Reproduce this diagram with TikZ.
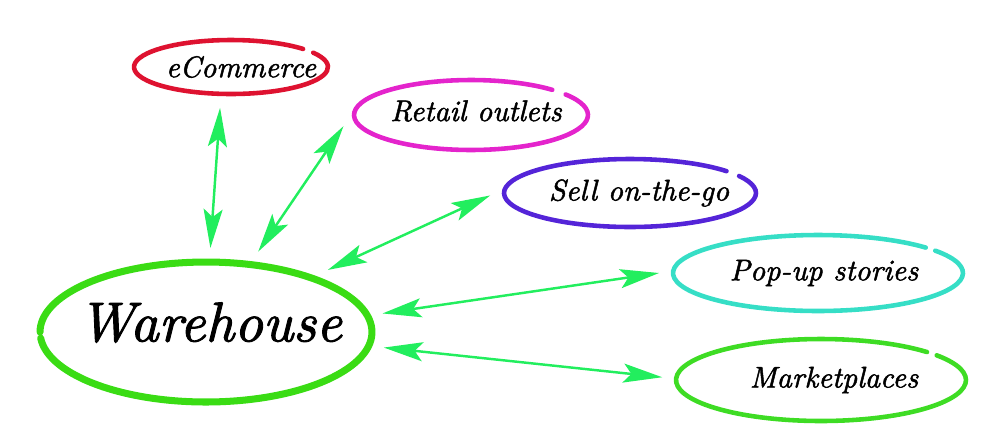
\documentclass[tikz,border=0pt]{standalone}
\usepackage{fontspec}
\usepackage{xcolor}
\usepackage{tikz}
\usetikzlibrary{shapes.geometric, arrows.meta}
\newfontfamily\handfont{lmroman10-italic.otf}[FakeBold=1.6]
\definecolor{arrowgreen}{HTML}{22EE5E}
\definecolor{ringware}{HTML}{3ADC14}
\definecolor{ringecom}{HTML}{DE1230}
\definecolor{ringretail}{HTML}{E424CC}
\definecolor{ringsell}{HTML}{5424D8}
\definecolor{ringpop}{HTML}{36DEC6}
\definecolor{ringmarket}{HTML}{3EDC24}

\begin{document}
\begin{tikzpicture}[
    x=0.02cm, y=-0.02cm,
    ring/.style={ellipse, inner sep=0pt, outer sep=0.24cm},
    hand/.style={draw=#1, line width=2.6pt, line cap=round},
    lbl/.style={font=\handfont\fontsize{17}{21}\selectfont, text=black},
    biglbl/.style={font=\handfont\fontsize{32}{38}\selectfont, text=black},
    arr/.style={{Stealth[length=0.78cm, width=0.38cm, inset=0.16cm]}-{Stealth[length=0.78cm, width=0.38cm, inset=0.16cm]}, line width=1.4pt, color=arrowgreen},
]
\useasboundingbox (0,0) rectangle (1000,444);

% ─── Centre: Warehouse ───
\node[ring, minimum width=6.76cm, minimum height=2.88cm, label={[biglbl, xshift=0.08cm, yshift=0.19cm]center:Warehouse}] (ware) at (206,332) {};
\draw[hand=ringware, line width=4pt] (ware.center) ++(185:3.32cm and 1.40cm) arc[start angle=185, end angle=540, x radius=3.32cm, y radius=1.40cm];

% ─── Channels ───
\node[ring, minimum width=3.96cm, minimum height=1.16cm, label={[lbl, xshift=0.2cm]center:eCommerce}] (ecom) at (231,67) {};
\draw[hand=ringecom] (ecom.center) ++(42:1.94cm and 0.54cm) arc[start angle=42, end angle=392, x radius=1.94cm, y radius=0.54cm];

\node[ring, minimum width=4.76cm, minimum height=1.48cm, label={[lbl, xshift=0.1cm, yshift=0.08cm]center:Retail outlets}] (retail) at (471,115) {};
\draw[hand=ringretail] (retail.center) ++(46:2.34cm and 0.70cm) arc[start angle=46, end angle=396, x radius=2.34cm, y radius=0.70cm];

\node[ring, minimum width=5.12cm, minimum height=1.44cm, label={[lbl, xshift=0.18cm]center:Sell on-the-go}] (sell) at (630,193) {};
\draw[hand=ringsell] (sell.center) ++(40:2.52cm and 0.68cm) arc[start angle=40, end angle=390, x radius=2.52cm, y radius=0.68cm];

\node[ring, minimum width=5.88cm, minimum height=1.6cm, label={[lbl, xshift=0.12cm]center:Pop-up stories}] (pop) at (818,273) {};
\draw[hand=ringpop] (pop.center) ++(42:2.90cm and 0.76cm) arc[start angle=42, end angle=396, x radius=2.90cm, y radius=0.76cm];

\node[ring, minimum width=5.88cm, minimum height=1.72cm, label={[lbl, xshift=0.26cm]center:Marketplaces}] (market) at (821,380) {};
\draw[hand=ringmarket] (market.center) ++(43:2.90cm and 0.82cm) arc[start angle=43, end angle=397, x radius=2.90cm, y radius=0.82cm];

% ─── Arrows ───
\draw[arr] (ecom.-105) -- (ware.87);
\draw[arr] (retail.185) -- (ware.57);
\draw[arr] (sell.181) -- (ware.27);
\draw[arr] (pop.180) -- (ware.6);
\draw[arr] (market.179) -- (ware.-5);

\end{tikzpicture}
\end{document}
